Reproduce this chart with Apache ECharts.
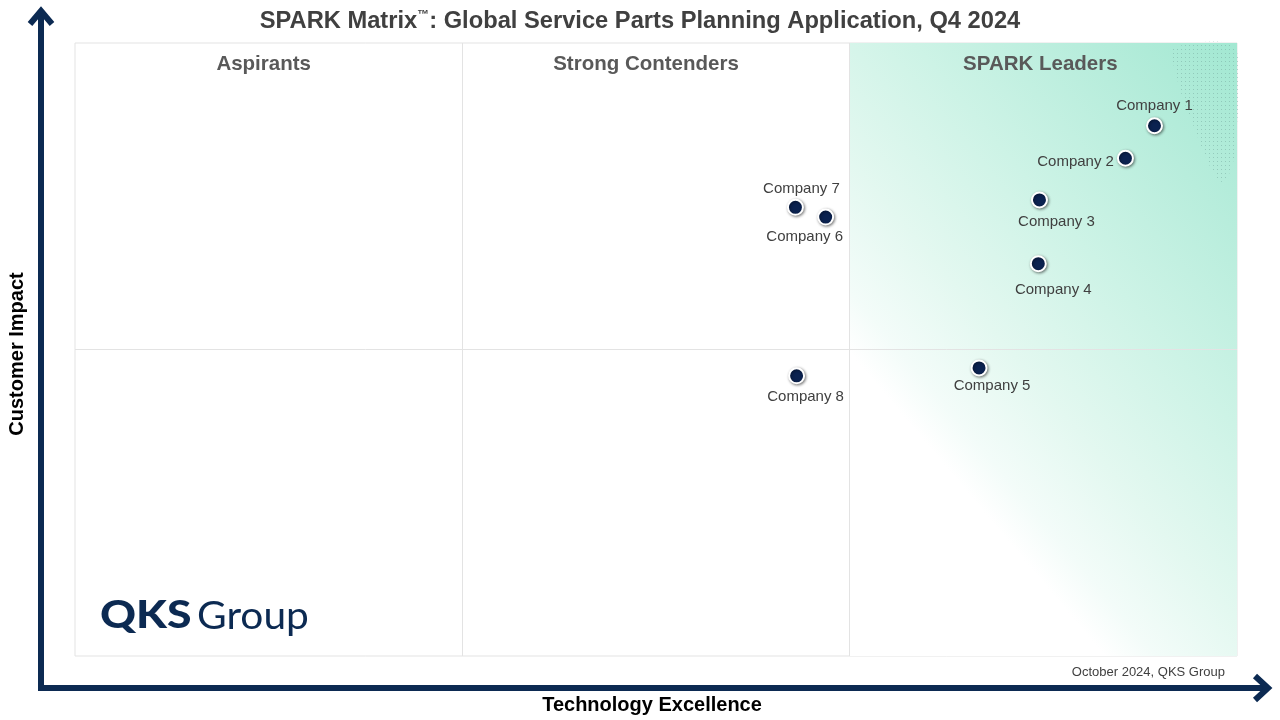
<!DOCTYPE html>
<html>
<head>
<meta charset="utf-8">
<title>SPARK Matrix</title>
<script src="https://cdn.jsdelivr.net/npm/echarts@6/dist/echarts.min.js"></script>
<style>
  html, body { margin: 0; padding: 0; background: #fff; }
  #main { width: 1280px; height: 720px; }
</style>
</head>
<body>
<div id="main"></div>
<script>
// 公司名称
var companies = ['Company 1', 'Company 2', 'Company 3', 'Company 4', 'Company 5', 'Company 6', 'Company 7', 'Company 8'];
// 横轴 Technology Excellence (0-100)
var techScore = [92.9, 90.4, 83.0, 82.9, 77.8, 64.6, 62.0, 62.1];
// 纵轴 Customer Impact (0-100)
var impactScore = [86.5, 81.2, 74.4, 64.0, 47.0, 71.6, 73.2, 45.7];
// 象限名称
var quadrants = ['Aspirants', 'Strong Contenders', 'SPARK Leaders'];
// 象限分界
var xDividers = [100 / 3, 200 / 3];
var yDividers = [50];

// 标签位置 (样式)
var labelStyle = {
    'Company 1': { position: 'top', offset: [0, 1] },
    'Company 2': { position: 'left', offset: [2, 4] },
    'Company 3': { position: 'bottom', offset: [17, 1] },
    'Company 4': { position: 'bottom', offset: [15, 5] },
    'Company 5': { position: 'bottom', offset: [13, -3] },
    'Company 6': { position: 'bottom', offset: [-21, -1] },
    'Company 7': { position: 'top', offset: [6, 3] },
    'Company 8': { position: 'bottom', offset: [9, 0] }
};
var titleOffsets = [[-5, 2], [-10, 2], [-3, 2]];

var myChart = echarts.init(document.getElementById('main'));

var points = [];
for (var i = 0; i < companies.length; i++) {
    var ls = labelStyle[companies[i]];
    points.push({
        name: companies[i],
        value: [techScore[i], impactScore[i]],
        label: { position: ls.position, offset: ls.offset }
    });
}

var markLines = [];
for (var j = 0; j < xDividers.length; j++) markLines.push({ xAxis: xDividers[j] });
for (var k = 0; k < yDividers.length; k++) markLines.push({ yAxis: yDividers[k] });

// 象限标题
var quadTitles = [];
var qEdges = [0].concat(xDividers).concat([100]);
for (var q = 0; q < quadrants.length; q++) {
    quadTitles.push({
        name: quadrants[q],
        value: [(qEdges[q] + qEdges[q + 1]) / 2, 96.9],
        label: { offset: titleOffsets[q] }
    });
}

// 点状纹理
var dotCanvas = document.createElement('canvas');
dotCanvas.width = 4; dotCanvas.height = 4;
var dctx = dotCanvas.getContext('2d');
dctx.fillStyle = 'rgba(120,170,160,0.5)';
dctx.fillRect(1, 1, 1, 1);

var navy = '#0c2a52';

option = {
    backgroundColor: '#ffffff',
    animation: false,
    title: {
        text: 'SPARK Matrix{tm|™}: Global Service Parts Planning Application, Q4 2024',
        left: 'center',
        top: 4,
        textStyle: {
            fontFamily: 'Liberation Sans, Arial',
            fontSize: 23.7,
            fontWeight: 'bold',
            color: '#404040',
            rich: {
                tm: { fontSize: 12, fontWeight: 'bold', color: '#404040', verticalAlign: 'top', padding: [0, 0, 11, 0] }
            }
        }
    },
    grid: { left: 75, right: 43, top: 43, bottom: 64, show: true, borderColor: '#e3e3e3', borderWidth: 1, backgroundColor: 'transparent' },
    xAxis: {
        type: 'value', min: 0, max: 100,
        axisLine: { show: false }, axisTick: { show: false }, axisLabel: { show: false }, splitLine: { show: false }
    },
    yAxis: {
        type: 'value', min: 0, max: 100,
        axisLine: { show: false }, axisTick: { show: false }, axisLabel: { show: false }, splitLine: { show: false }
    },
    series: [
        {
            // 领导者区域背景
            type: 'scatter',
            data: [],
            silent: true,
            markArea: {
                silent: true,
                itemStyle: {
                    opacity: 1,
                    color: {
                        type: 'linear', x: 0.02, y: 0.52, x2: 1, y2: 0,
                        colorStops: [
                            { offset: 0, color: '#ffffff' },
                            { offset: 0.08, color: '#f3fcf9' },
                            { offset: 0.25, color: '#e3f8f0' },
                            { offset: 0.5, color: '#cdf3e6' },
                            { offset: 0.75, color: '#b8eddc' },
                            { offset: 1, color: '#a2e8d2' }
                        ]
                    }
                },
                data: [[{ xAxis: xDividers[1], yAxis: 0 }, { xAxis: 100, yAxis: 100 }]]
            },
            markLine: {
                silent: true,
                symbol: 'none',
                label: { show: false },
                lineStyle: { color: '#e3e3e3', width: 1, type: 'solid', opacity: 1 },
                data: markLines
            },
            z: 1
        },
        {
            // 象限标题
            type: 'scatter',
            data: quadTitles,
            symbolSize: 0,
            silent: true,
            itemStyle: { opacity: 1 },
            label: {
                show: true,
                position: 'inside',
                formatter: '{b}',
                fontFamily: 'Liberation Sans, Arial',
                fontSize: 20.5,
                fontWeight: 'bold',
                color: '#595959'
            },
            z: 3
        },
        {
            name: '公司',
            type: 'scatter',
            data: points,
            symbol: 'circle',
            symbolSize: 15,
            itemStyle: {
                opacity: 1,
                color: '#0b2250',
                borderColor: '#ffffff',
                borderWidth: 2,
                shadowBlur: 3,
                shadowColor: 'rgba(0,0,0,0.45)',
                shadowOffsetX: 1,
                shadowOffsetY: 1
            },
            label: {
                show: true,
                formatter: '{b}',
                distance: 5,
                fontFamily: 'Liberation Sans, Arial',
                fontSize: 15,
                color: '#404040'
            },
            z: 5
        }
    ],
    graphic: [
        {
            type: 'polygon',
            silent: true,
            z: 2,
            shape: {
                points: [[1172, 48], [1235, 48], [1235, 150], [1230, 172], [1222, 182], [1212, 170], [1202, 148], [1192, 122], [1182, 96], [1175, 70]],
                smooth: 0.3
            },
            style: { fill: { image: dotCanvas, repeat: 'repeat' } }
        },
        // 纵轴箭头
        { type: 'line', silent: true, shape: { x1: 41, y1: 10, x2: 41, y2: 691 }, style: { stroke: navy, lineWidth: 6 } },
        { type: 'polyline', silent: true, shape: { points: [[30, 24], [41, 11], [52, 24]] }, style: { stroke: navy, lineWidth: 6, fill: null, lineJoin: 'miter' } },
        // 横轴箭头
        { type: 'line', silent: true, shape: { x1: 38, y1: 688, x2: 1268, y2: 688 }, style: { stroke: navy, lineWidth: 6 } },
        { type: 'polyline', silent: true, shape: { points: [[1255, 676], [1268, 688], [1255, 700]] }, style: { stroke: navy, lineWidth: 6, fill: null, lineJoin: 'miter' } },
        {
            type: 'text', silent: true, x: 652, y: 705,
            style: { text: 'Technology Excellence', fontFamily: 'Liberation Sans, Arial', fontSize: 20, fontWeight: 'bold', fill: '#000', align: 'center', verticalAlign: 'middle' }
        },
        {
            type: 'text', silent: true, x: 17, y: 354, rotation: Math.PI / 2,
            style: { text: 'Customer Impact', fontFamily: 'Liberation Sans, Arial', fontSize: 20, fontWeight: 'bold', fill: '#000', align: 'center', verticalAlign: 'middle' }
        },
        {
            type: 'text', silent: true, x: 1225, y: 672,
            style: { text: 'October 2024, QKS Group', fontFamily: 'Liberation Sans, Arial', fontSize: 13, fill: '#404040', align: 'right', verticalAlign: 'middle' }
        },
        // QKS Group 标志
        {
            type: 'text', silent: true, x: 100, y: 616, scaleX: 1.17,
            style: { text: 'QKS', fontFamily: 'Lato', fontSize: 38, fontWeight: 900, fill: navy, align: 'left', verticalAlign: 'middle' }
        },
        {
            type: 'text', silent: true, x: 197, y: 617, scaleX: 1.07,
            style: { text: 'Group', fontFamily: 'Lato', fontSize: 38, fontWeight: 'normal', fill: navy, align: 'left', verticalAlign: 'middle' }
        }
    ]
};

myChart.setOption(option);
</script>
</body>
</html>
